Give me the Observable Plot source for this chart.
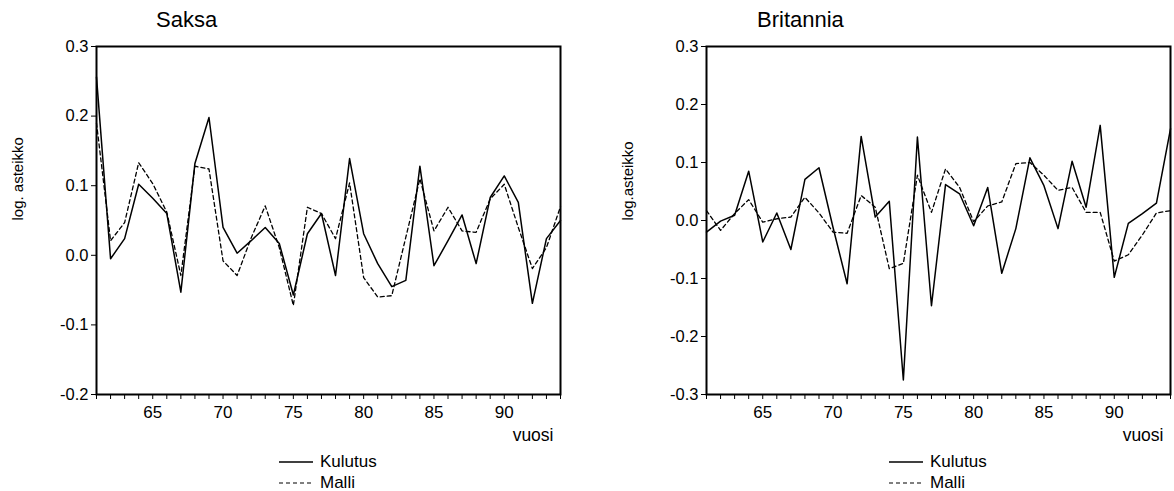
<!DOCTYPE html>
<html><head><meta charset="utf-8">
<script src="https://cdn.jsdelivr.net/npm/d3@7"></script>
<script src="https://cdn.jsdelivr.net/npm/@observablehq/plot@0.6"></script>
<style>
body{margin:0;background:#fff;font-family:"Liberation Sans",Arial,Helvetica,sans-serif;color:#000;}
#wrap{position:relative;width:1174px;height:491px;overflow:hidden;background:#fff;}
.panel{position:absolute;top:0;}
.panel svg g[aria-label="x-axis tick label"] text{font-size:17px !important;}
.panel svg g[aria-label="y-axis tick label"] text{font-size:16.5px !important;}
.title{position:absolute;top:9px;font-size:22px;line-height:1;white-space:nowrap;}
.legend{position:absolute;top:451px;font-size:17px;}
.legend .row{display:flex;align-items:center;height:21px;line-height:21px;}
.legend svg{margin-right:7px;}
</style></head><body>
<div id="wrap"></div>
<script>
// ---- data ----
const years = [61,62,63,64,65,66,67,68,69,70,71,72,73,74,75,76,77,78,79,80,81,82,83,84,85,86,87,88,89,90,91,92,93,94];
const seriesNames = ["Kulutus", "Malli"];
const panelTitles = ["Saksa", "Britannia"];
const yLabels = ["log. asteikko", "log.asteikko"];
const xLabel = "vuosi";
const saksaTicks = [0.3, 0.2, 0.1, 0.0, -0.1, -0.2];
const britTicks = [0.3, 0.2, 0.1, 0.0, -0.1, -0.2, -0.3];
const xLabelTicks = [65, 70, 75, 80, 85, 90];

const saksaKulutus = [0.256,-0.005,0.024,0.102,0.082,0.060,-0.053,0.132,0.198,0.040,0.003,0.021,0.040,0.017,-0.057,0.031,0.060,-0.029,0.139,0.031,-0.012,-0.045,-0.036,0.128,-0.015,0.021,0.058,-0.012,0.083,0.114,0.076,-0.069,0.024,0.050];
const saksaMalli   = [0.190,0.021,0.047,0.133,0.103,0.062,-0.029,0.128,0.124,-0.008,-0.029,0.025,0.071,0.011,-0.072,0.069,0.060,0.024,0.104,-0.032,-0.060,-0.058,0.026,0.110,0.035,0.069,0.035,0.033,0.081,0.102,0.040,-0.019,0.011,0.070];
const britKulutus  = [-0.020,-0.001,0.009,0.085,-0.037,0.013,-0.050,0.071,0.091,-0.012,-0.109,0.145,0.006,0.033,-0.275,0.144,-0.147,0.062,0.046,-0.009,0.057,-0.091,-0.014,0.108,0.060,-0.014,0.102,0.023,0.164,-0.098,-0.005,0.012,0.030,0.158];
const britMalli    = [0.017,-0.017,0.012,0.036,-0.003,0.003,0.006,0.040,0.013,-0.020,-0.022,0.043,0.023,-0.083,-0.074,0.078,0.014,0.089,0.057,-0.002,0.025,0.032,0.098,0.100,0.078,0.052,0.057,0.014,0.014,-0.070,-0.059,-0.025,0.013,0.017];

const FONT = '"Liberation Sans", Arial, Helvetica, sans-serif';
const wrap = document.getElementById("wrap");

function makePanel({left, marginLeft, marginRight, kulutus, malli, yTicks, yLabel, yLabelLen, title, titleLeft}) {
  const rows = (vals, s) => years.map((yr, i) => ({year: yr, value: vals[i], series: s}));
  const kData = rows(kulutus, seriesNames[0]);
  const mData = rows(malli, seriesNames[1]);
  const svg = Plot.plot({
    width: 587, height: 460,
    marginLeft, marginRight, marginTop: 46, marginBottom: 66,
    style: {fontFamily: FONT, fontSize: "15px", color: "#000", background: "transparent", overflow: "visible"},
    x: {domain: [d3.min(years), d3.max(years)]},
    y: {domain: [d3.min(yTicks), d3.max(yTicks)]},
    marks: [
      Plot.axisX({ticks: years, tickFormat: d => xLabelTicks.includes(d) ? String(d) : "", tickSize: 5, tickPadding: 6, label: null}),
      Plot.axisY({ticks: yTicks, tickFormat: d => d.toFixed(1), tickSize: 5, tickPadding: 3, label: null}),
      Plot.text([xLabel], {frameAnchor: "bottom-right", textAnchor: "end", dx: -7, dy: 46, fontSize: 17.5, fill: "#000"}),
      Plot.text([yLabel], {frameAnchor: "left", rotate: -90, dx: -78, fontSize: 15, fill: "#000", ariaLabel: "ylabel"}),
      Plot.line(mData, {x: "year", y: "value", stroke: "#000", strokeWidth: 1.3, strokeDasharray: "4,3"}),
      Plot.line(kData, {x: "year", y: "value", stroke: "#000", strokeWidth: 1.5}),
      Plot.frame({stroke: "#000", strokeWidth: 2})
    ]
  });
  d3.select(svg).selectAll('g[aria-label="ylabel"] text')
    .attr("textLength", yLabelLen).attr("lengthAdjust", "spacingAndGlyphs");
  const holder = document.createElement("div");
  holder.className = "panel";
  holder.style.left = left + "px";
  holder.appendChild(svg);
  wrap.appendChild(holder);

  const t = document.createElement("div");
  t.className = "title";
  t.style.left = titleLeft + "px";
  t.textContent = title;
  wrap.appendChild(t);

  const lg = document.createElement("div");
  lg.className = "legend";
  lg.style.left = (left + marginLeft + 183) + "px";
  seriesNames.forEach((name, i) => {
    const r = document.createElement("div");
    r.className = "row";
    r.innerHTML = `<svg width="34" height="10"><line x1="0" x2="34" y1="5" y2="5" stroke="#000" stroke-width="${i ? 1.2 : 1.3}" ${i ? 'stroke-dasharray="4,3"' : ''}/></svg><span>${name}</span>`;
    lg.appendChild(r);
  });
  wrap.appendChild(lg);
}

makePanel({left: 0, marginLeft: 96, marginRight: 27, kulutus: saksaKulutus, malli: saksaMalli,
  yTicks: saksaTicks, yLabel: yLabels[0], yLabelLen: 137, title: panelTitles[0], titleLeft: 156});
makePanel({left: 587, marginLeft: 119, marginRight: 4, kulutus: britKulutus, malli: britMalli,
  yTicks: britTicks, yLabel: yLabels[1], yLabelLen: 125, title: panelTitles[1], titleLeft: 757});
</script>
</body></html>
